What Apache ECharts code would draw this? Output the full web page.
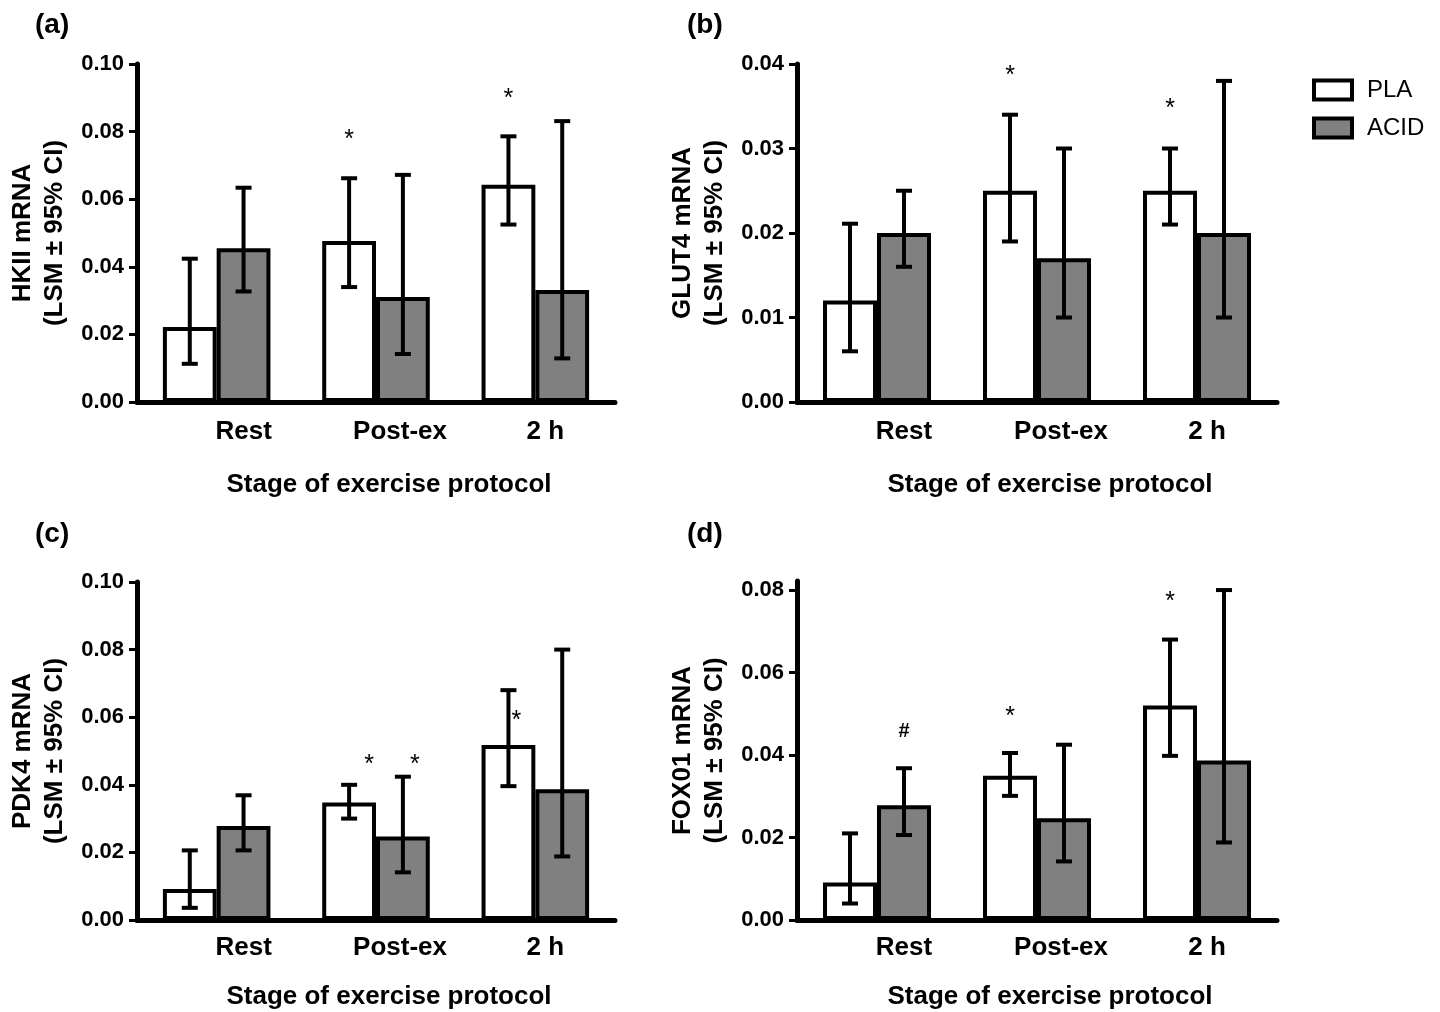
<!DOCTYPE html>
<html><head><meta charset="utf-8">
<script src="https://cdn.jsdelivr.net/npm/echarts@6/dist/echarts.min.js"></script>
<style>html,body{margin:0;padding:0;background:#fff}#c{width:1440px;height:1012px}</style>
</head><body><div id="c"></div>
<script>
// ---------- data ----------
const categories = ['Rest', 'Post-ex', '2 h'];
const seriesNames = ['PLA', 'ACID'];

// (a) HKII
const hkiiPLA = [0.0222, 0.0476, 0.0643];
const hkiiPLALow = [0.0113, 0.0340, 0.0525];
const hkiiPLAHigh = [0.0424, 0.0662, 0.0786];
const hkiiACID = [0.0455, 0.0311, 0.0331];
const hkiiACIDLow = [0.0327, 0.0142, 0.0129];
const hkiiACIDHigh = [0.0634, 0.0672, 0.0831];
const hkiiTicks = ['0.00', '0.02', '0.04', '0.06', '0.08', '0.10'];
const hkiiMarks = [{cat: 1, s: 0, y: 0.0790, t: '*'}, {cat: 2, s: 0, y: 0.0912, t: '*'}];

// (b) GLUT4
const glutPLA = [0.0120, 0.0250, 0.0250];
const glutPLALow = [0.0060, 0.0190, 0.0210];
const glutPLAHigh = [0.0211, 0.0340, 0.0300];
const glutACID = [0.0200, 0.0170, 0.0200];
const glutACIDLow = [0.0160, 0.0100, 0.0100];
const glutACIDHigh = [0.0250, 0.0300, 0.0380];
const glutTicks = ['0.00', '0.01', '0.02', '0.03', '0.04'];
const glutMarks = [{cat: 1, s: 0, y: 0.0392, t: '*'}, {cat: 2, s: 0, y: 0.0352, t: '*'}];

// (c) PDK4
const pdkPLA = [0.0092, 0.0348, 0.0518];
const pdkPLALow = [0.0036, 0.0300, 0.0396];
const pdkPLAHigh = [0.0206, 0.0400, 0.0680];
const pdkACID = [0.0278, 0.0247, 0.0387];
const pdkACIDLow = [0.0206, 0.0141, 0.0188];
const pdkACIDHigh = [0.0369, 0.0424, 0.0800];
const pdkTicks = ['0.00', '0.02', '0.04', '0.06', '0.08', '0.10'];
const pdkMarks = [{cat: 1, s: 0, y: 0.0473, t: '*'}, {cat: 1, s: 1, y: 0.0473, t: '*'}, {cat: 2, s: 0, y: 0.0604, t: '*'}];

// (d) FOX01
const foxPLA = [0.0091, 0.0350, 0.0520];
const foxPLALow = [0.0040, 0.0301, 0.0398];
const foxPLAHigh = [0.0210, 0.0405, 0.0680];
const foxACID = [0.0278, 0.0247, 0.0387];
const foxACIDLow = [0.0206, 0.0142, 0.0188];
const foxACIDHigh = [0.0368, 0.0425, 0.0800];
const foxTicks = ['0.00', '0.02', '0.04', '0.06', '0.08'];
const foxMarks = [{cat: 0, s: 1, y: 0.0458, t: '#'}, {cat: 1, s: 0, y: 0.0504, t: '*'}, {cat: 2, s: 0, y: 0.0783, t: '*'}];

// ---------- layout / style ----------
const FONT = '"Liberation Sans", Arial, Helvetica, sans-serif';
const BAR_FRAC = 0.3375;
const labelShift = [27, 24, 10];
const markNudge = {2: [20, 12, 8]}; // pixel nudges for panel (c) marks

const panels = [
  {tag: '(a)', tagPos: [30, 6], grid: {left: 137, top: 64, width: 478, height: 338}, max: 0.10, interval: 0.02, xNameGap: 70, xLabelMargin: 17,
   yName: 'HKII mRNA', pla: hkiiPLA, plaLo: hkiiPLALow, plaHi: hkiiPLAHigh, acid: hkiiACID, acidLo: hkiiACIDLow, acidHi: hkiiACIDHigh, ticks: hkiiTicks, marks: hkiiMarks},
  {tag: '(b)', tagPos: [682, 6], grid: {left: 797, top: 64, width: 480, height: 338}, max: 0.04, interval: 0.01, xNameGap: 70, xLabelMargin: 17,
   yName: 'GLUT4 mRNA', pla: glutPLA, plaLo: glutPLALow, plaHi: glutPLAHigh, acid: glutACID, acidLo: glutACIDLow, acidHi: glutACIDHigh, ticks: glutTicks, marks: glutMarks},
  {tag: '(c)', tagPos: [30, 515], grid: {left: 137, top: 582, width: 478, height: 338}, max: 0.10, interval: 0.02, xNameGap: 64, xLabelMargin: 15,
   yName: 'PDK4 mRNA', pla: pdkPLA, plaLo: pdkPLALow, plaHi: pdkPLAHigh, acid: pdkACID, acidLo: pdkACIDLow, acidHi: pdkACIDHigh, ticks: pdkTicks, marks: pdkMarks},
  {tag: '(d)', tagPos: [682, 515], grid: {left: 797, top: 581, width: 480, height: 339}, max: 0.0822, interval: 0.02, xNameGap: 64, xLabelMargin: 15,
   yName: 'FOX01 mRNA', pla: foxPLA, plaLo: foxPLALow, plaHi: foxPLAHigh, acid: foxACID, acidLo: foxACIDLow, acidHi: foxACIDHigh, ticks: foxTicks, marks: foxMarks}
];

function errRender(params, api) {
  const cat = api.value(0), lo = api.value(1), hi = api.value(2), s = api.value(3);
  const band = api.size([1, 0])[0];
  const bw = band * BAR_FRAC;
  const pLo = api.coord([cat, lo]);
  const pHi = api.coord([cat, hi]);
  const x = pLo[0] + (s === 0 ? -bw / 2 : bw / 2);
  const cap = 8;
  const style = {stroke: '#000', lineWidth: 4};
  return {type: 'group', children: [
    {type: 'line', shape: {x1: x, y1: pLo[1], x2: x, y2: pHi[1]}, style: style},
    {type: 'line', shape: {x1: x - cap, y1: pHi[1], x2: x + cap, y2: pHi[1]}, style: style},
    {type: 'line', shape: {x1: x - cap, y1: pLo[1], x2: x + cap, y2: pLo[1]}, style: style}
  ]};
}

function makeMarkRender(marks) {
  return function (params, api) {
    const cat = api.value(0), s = api.value(1), y = api.value(2), dx = api.value(3);
    const band = api.size([1, 0])[0];
    const bw = band * BAR_FRAC;
    const p = api.coord([cat, y]);
    const t = marks[params.dataIndex].t;
    return {type: 'text', x: p[0] + (s === 0 ? -bw / 2 : bw / 2) + dx, y: p[1] + (t === '*' ? 5 : 0),
      style: {text: t, fill: '#000', fontSize: t === '*' ? 25 : 20, fontWeight: t === '#' ? 'bold' : 'normal',
        fontFamily: FONT, align: 'center', verticalAlign: 'middle'}};
  };
}

const rich = {};
labelShift.forEach((d, i) => {
  rich['c' + i] = {fontSize: 26, fontWeight: 'bold', color: '#000', fontFamily: FONT, padding: [0, 0, 0, 2 * d]};
});

const option = {
  backgroundColor: '#fff',
  animation: false,
  title: panels.map(p => ({text: p.tag, left: p.tagPos[0], top: p.tagPos[1],
    textStyle: {fontSize: 28, fontWeight: 'bold', color: '#000', fontFamily: FONT}})),
  legend: {
    orient: 'vertical', left: 1307, top: 73, itemWidth: 38, itemHeight: 19, itemGap: 14,
    selectedMode: false,
    data: [
      {name: 'PLA', icon: 'rect', itemStyle: {color: '#fff', borderColor: '#000', borderWidth: 4}},
      {name: 'ACID', icon: 'rect', itemStyle: {color: '#808080', borderColor: '#000', borderWidth: 4}}
    ],
    textStyle: {fontSize: 24, color: '#000', fontFamily: FONT, padding: [0, 0, 0, 10]}
  },
  grid: panels.map(p => Object.assign({containLabel: false, outerBoundsMode: 'none'}, p.grid)),
  xAxis: panels.map((p, i) => ({
    type: 'category', gridIndex: i, data: categories,
    axisLine: {lineStyle: {color: '#000', width: 5}},
    axisTick: {show: false},
    axisLabel: {margin: p.xLabelMargin, formatter: (v, idx) => '{c' + idx + '|' + v + '}', rich: rich},
    name: 'Stage of exercise protocol', nameLocation: 'middle', nameGap: p.xNameGap, nameMoveOverlap: false,
    nameTextStyle: {fontSize: 26, fontWeight: 'bold', color: '#000', fontFamily: FONT, padding: [0, 0, 0, 26]}
  })),
  yAxis: panels.map((p, i) => ({
    type: 'value', gridIndex: i, min: 0, max: p.max, interval: p.interval,
    splitLine: {show: false},
    axisLine: {show: true, lineStyle: {color: '#000', width: 5}},
    axisTick: {show: true, length: 8, lineStyle: {color: '#000', width: 3}, customValues: p.ticks.map(Number)},
    axisLabel: {customValues: p.ticks.map(Number), formatter: v => v.toFixed(2), fontSize: 22, fontWeight: 'bold',
      color: '#000', fontFamily: FONT, margin: 13},
    name: p.yName + '\n(LSM \u00b1 95% CI)', nameLocation: 'middle', nameRotate: 90, nameGap: 66, nameMoveOverlap: false,
    nameTextStyle: {fontSize: 26, fontWeight: 'bold', color: '#000', fontFamily: FONT, lineHeight: 32}
  })),
  series: []
};

panels.forEach((p, i) => {
  option.series.push({
    type: 'bar', name: seriesNames[0], xAxisIndex: i, yAxisIndex: i, data: p.pla,
    barWidth: (BAR_FRAC * 100) + '%', barGap: '0%',
    itemStyle: {color: '#fff', borderColor: '#000', borderWidth: 4}, z: 2
  });
  option.series.push({
    type: 'bar', name: seriesNames[1], xAxisIndex: i, yAxisIndex: i, data: p.acid,
    barWidth: (BAR_FRAC * 100) + '%', barGap: '0%',
    itemStyle: {color: '#808080', borderColor: '#000', borderWidth: 4}, z: 2
  });
  const err = [];
  for (let k = 0; k < categories.length; k++) {
    err.push([k, p.plaLo[k], p.plaHi[k], 0]);
    err.push([k, p.acidLo[k], p.acidHi[k], 1]);
  }
  option.series.push({
    type: 'custom', xAxisIndex: i, yAxisIndex: i, renderItem: errRender, data: err,
    encode: {x: 0, y: [1, 2]}, z: 5, silent: true
  });
  const nud = markNudge[i] || [];
  option.series.push({
    type: 'custom', xAxisIndex: i, yAxisIndex: i, renderItem: makeMarkRender(p.marks),
    data: p.marks.map((m, k) => [m.cat, m.s, m.y, nud[k] || 0]),
    encode: {x: 0, y: 2}, z: 6, silent: true
  });
});

const chart = echarts.init(document.getElementById('c'), null, {renderer: 'canvas'});
chart.setOption(option);
</script>
</body></html>
